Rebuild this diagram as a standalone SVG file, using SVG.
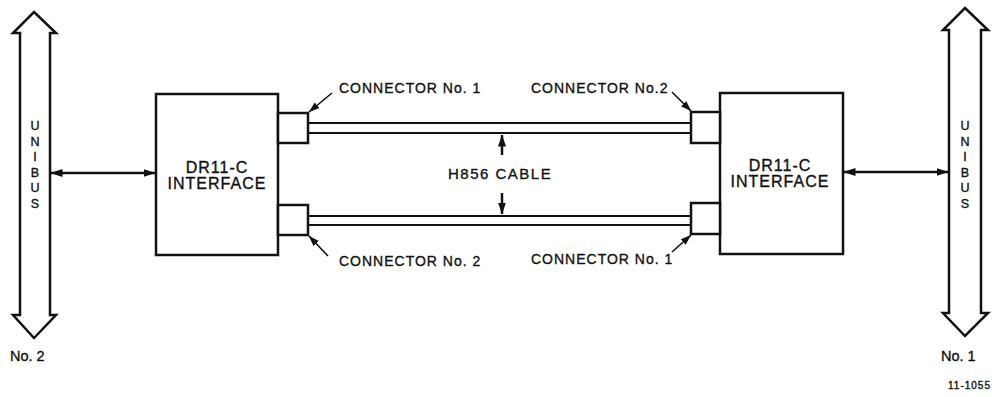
<svg xmlns="http://www.w3.org/2000/svg" width="992" height="397" viewBox="0 0 992 397">
<style>
  .ln { fill: #fff; stroke: #111; stroke-width: 2.5; stroke-linejoin: miter; }
  .box { fill: #fff; stroke: #111; stroke-width: 2.5; }
  .cab { stroke: #111; stroke-width: 2; }
  .t { font-family: "Liberation Sans", Arial, sans-serif; fill: #111; stroke: #111; stroke-width: 0.35; }
  .lbl { font-size: 14px; letter-spacing: 1px; }
  .box-t { font-size: 16px; letter-spacing: 1px; text-anchor: middle; }
  .bus-t { font-size: 12.5px; text-anchor: middle; }
  .arr { stroke: #111; stroke-width: 2.5; fill: none; }
  .lead { stroke: #111; stroke-width: 1.6; fill: none; }
</style>
<defs>
  <marker id="ah" viewBox="0 0 12 8" refX="11.5" refY="4" markerWidth="12" markerHeight="8" markerUnits="userSpaceOnUse" orient="auto-start-reverse">
    <path d="M0,0 L12,4 L0,8 Z" fill="#111"/>
  </marker>
  <marker id="lh" viewBox="0 0 12 8" refX="11.5" refY="4" markerWidth="11" markerHeight="8" markerUnits="userSpaceOnUse" orient="auto">
    <path d="M0,0 L12,4 L0,8 Z" fill="#111"/>
  </marker>
</defs>

<g id="unibus-2">
  <polygon class="ln" points="34,12 56,33 50,33 50,315 56,315 34,338 13,315 20,315 20,33 13,33"/>
  <text class="t bus-t" x="35" y="130">U</text>
  <text class="t bus-t" x="35" y="145.5">N</text>
  <text class="t bus-t" x="35" y="161">I</text>
  <text class="t bus-t" x="35" y="176.5">B</text>
  <text class="t bus-t" x="35" y="192">U</text>
  <text class="t bus-t" x="35" y="207.5">S</text>
  <text class="t" x="10" y="361" font-size="14.5">No. 2</text>
</g>

<g id="unibus-1">
  <polygon class="ln" points="965,8 988,30 981,30 981,313 988,313 965,336 943,313 949,313 949,30 943,30"/>
  <text class="t bus-t" x="965" y="130">U</text>
  <text class="t bus-t" x="965" y="145.5">N</text>
  <text class="t bus-t" x="965" y="161">I</text>
  <text class="t bus-t" x="965" y="176.5">B</text>
  <text class="t bus-t" x="965" y="192">U</text>
  <text class="t bus-t" x="965" y="207.5">S</text>
  <text class="t" x="941" y="361" font-size="14.5">No. 1</text>
</g>

<g id="interface-left">
  <rect class="box" x="156" y="94" width="122" height="161"/>
  <text class="t box-t" x="217" y="173">DR11-C</text>
  <text class="t box-t" x="217" y="189">INTERFACE</text>
</g>

<g id="interface-right">
  <rect class="box" x="720" y="93" width="123" height="161"/>
  <text class="t box-t" x="780" y="171">DR11-C</text>
  <text class="t box-t" x="780" y="187">INTERFACE</text>
</g>

<g id="conn-left-top">
  <rect class="box" x="278" y="113" width="30" height="30"/>
</g>
<g id="conn-left-bottom">
  <rect class="box" x="278" y="205" width="30" height="30"/>
</g>
<g id="conn-right-top">
  <rect class="box" x="691" y="112" width="29" height="31"/>
</g>
<g id="conn-right-bottom">
  <rect class="box" x="691" y="203" width="29" height="31"/>
</g>

<g id="connectors">
  <line class="cab" x1="309" y1="123" x2="690" y2="123"/>
  <line class="cab" x1="309" y1="133" x2="690" y2="133"/>
  <line class="cab" x1="309" y1="216" x2="690" y2="216"/>
  <line class="cab" x1="309" y1="225" x2="690" y2="225"/>
  <line class="arr" x1="51" y1="173" x2="155" y2="173" marker-start="url(#ah)" marker-end="url(#ah)"/>
  <line class="arr" x1="844" y1="172" x2="948" y2="172" marker-start="url(#ah)" marker-end="url(#ah)"/>
  <line class="arr" x1="502" y1="155" x2="502" y2="135" stroke-width="2" marker-end="url(#ah)"/>
  <line class="arr" x1="502" y1="193" x2="502" y2="214" stroke-width="2" marker-end="url(#ah)"/>
  <line class="lead" x1="332" y1="93" x2="309" y2="112" marker-end="url(#lh)"/>
  <line class="lead" x1="672" y1="92" x2="691" y2="111" marker-end="url(#lh)"/>
  <line class="lead" x1="328" y1="256" x2="309" y2="236" marker-end="url(#lh)"/>
  <line class="lead" x1="672" y1="252" x2="691" y2="235" marker-end="url(#lh)"/>
</g>

<g id="labels">
  <text class="t lbl" x="339" y="93">CONNECTOR  No. 1</text>
  <text class="t lbl" x="531" y="93">CONNECTOR No.2</text>
  <text class="t lbl" x="339" y="266">CONNECTOR  No. 2</text>
  <text class="t lbl" x="531" y="264">CONNECTOR  No. 1</text>
  <text class="t" x="448" y="179" font-size="15" letter-spacing="1.5">H856 CABLE</text>
  <text class="t" x="948" y="389" font-size="10" letter-spacing="1" stroke-width="0">11-1055</text>
</g>
</svg>
